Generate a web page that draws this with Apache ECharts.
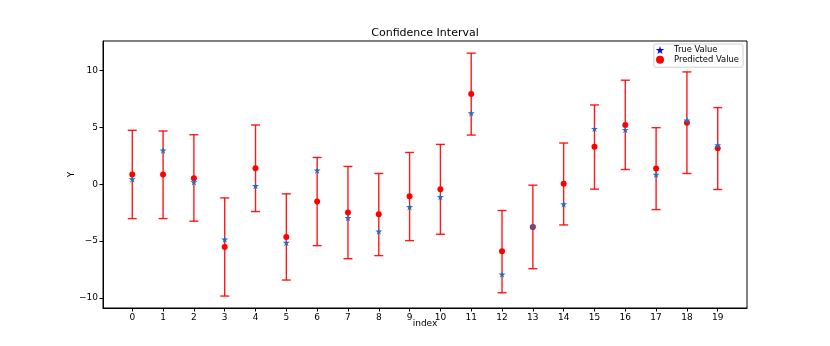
<!DOCTYPE html>
<html>
<head>
<meta charset="utf-8">
<script src="https://cdn.jsdelivr.net/npm/echarts@6/dist/echarts.min.js"></script>
<style>
  html, body { margin: 0; padding: 0; background: #fff; }
  #chart { width: 830px; height: 346px; }
</style>
</head>
<body>
<div id="chart"></div>
<script>
// values
const indexList = [0, 1, 2, 3, 4, 5, 6, 7, 8, 9, 10, 11, 12, 13, 14, 15, 16, 17, 18, 19]
const trueValues = [0.44, 2.97, 0.18, -4.85, -0.15, -5.15, 1.21, -2.97, -4.15, -2.0, -1.12, 6.26, -7.94, -3.71, -1.76, 4.88, 4.79, 0.85, 5.62, 3.44]
const predValues = [0.85, 0.85, 0.53, -5.53, 1.41, -4.65, -1.53, -2.5, -2.65, -1.06, -0.44, 7.94, -5.91, -3.76, 0.03, 3.29, 5.21, 1.38, 5.41, 3.15]
const lowerBound = [-3.03, -3.03, -3.26, -9.85, -2.41, -8.44, -5.41, -6.56, -6.29, -4.97, -4.41, 4.32, -9.56, -7.44, -3.59, -0.44, 1.29, -2.24, 0.94, -0.47]
const upperBound = [4.74, 4.68, 4.35, -1.21, 5.21, -0.85, 2.35, 1.56, 0.94, 2.79, 3.5, 11.53, -2.32, -0.09, 3.62, 6.97, 9.15, 4.97, 9.88, 6.74]
const yTicks = [-10, -5, 0, 5, 10]

const starPath = 'path://M50,0 L61,35 L98,35 L68,57 L79,91 L50,70 L21,91 L32,57 L2,35 L39,35 Z'
const font = 'DejaVu Sans'

let chart = echarts.init(document.getElementById('chart'))

let option = {
  backgroundColor: '#fff',
  animation: false,
  textStyle: { fontFamily: font },
  title: {
    text: 'Confidence Interval',
    left: 425,
    top: 28,
    padding: 0,
    textAlign: 'center',
    textStyle: { fontFamily: font, fontSize: 11, fontWeight: 'normal', color: '#000' }
  },
  legend: {
    right: 87,
    top: 44,
    orient: 'vertical',
    itemWidth: 18,
    itemHeight: 8,
    itemGap: 1.7,
    symbolKeepAspect: true,
    padding: [2, 4, 3.5, 2],
    borderColor: '#d0d0d0',
    borderWidth: 1,
    borderRadius: 2,
    textStyle: { fontFamily: font, fontSize: 8.4, color: '#000' },
    data: [
      { name: 'True Value', icon: starPath, itemStyle: { color: '#0000ff', opacity: 1 } },
      { name: 'Predicted Value', icon: 'circle', itemStyle: { opacity: 1 } }
    ]
  },
  grid: {
    left: 103,
    right: 83,
    top: 41,
    bottom: 38,
    show: true,
    borderColor: '#000',
    borderWidth: 1
  },
  xAxis: {
    type: 'value',
    min: -0.95,
    max: 19.95,
    name: 'index',
    nameLocation: 'middle',
    nameGap: 11,
    nameMoveOverlap: false,
    nameTextStyle: { fontFamily: font, fontSize: 9, color: '#000' },
    splitLine: { show: false },
    axisLine: { show: true, onZero: false, lineStyle: { color: '#000', width: 1 } },
    axisTick: { show: true, length: 3.5, customValues: indexList, lineStyle: { color: '#000' } },
    axisLabel: { customValues: indexList, margin: 5, fontFamily: font, fontSize: 9, color: '#000' }
  },
  yAxis: {
    type: 'value',
    min: -10.9,
    max: 12.6,
    name: 'Y',
    nameLocation: 'middle',
    nameGap: 27,
    nameMoveOverlap: false,
    nameTextStyle: { fontFamily: font, fontSize: 9, color: '#000' },
    splitLine: { show: false },
    axisLine: { show: true, onZero: false, lineStyle: { color: '#000', width: 1 } },
    axisTick: { show: true, length: 3.5, customValues: yTicks, lineStyle: { color: '#000' } },
    axisLabel: {
      customValues: yTicks,
      margin: 5,
      fontFamily: font,
      fontSize: 9,
      color: '#000',
      formatter: v => (v < 0 ? '\u2212' + Math.abs(v) : String(v))
    }
  },
  series: [
    {
      name: 'Error',
      type: 'custom',
      z: 1,
      renderItem: function (params, api) {
        const x = api.value(0)
        const top = api.coord([x, api.value(2)])
        const bot = api.coord([x, api.value(1)])
        const w = 4.5
        const style = { stroke: 'rgba(255,0,0,0.9)', lineWidth: 1.4 }
        return {
          type: 'group',
          children: [
            { type: 'line', shape: { x1: top[0], y1: top[1], x2: bot[0], y2: bot[1] }, style: style },
            { type: 'line', shape: { x1: top[0] - w, y1: top[1], x2: top[0] + w, y2: top[1] }, style: style },
            { type: 'line', shape: { x1: bot[0] - w, y1: bot[1], x2: bot[0] + w, y2: bot[1] }, style: style }
          ]
        }
      },
      data: indexList.map((x, i) => [x, lowerBound[i], upperBound[i]])
    },
    {
      name: 'Predicted Value',
      type: 'scatter',
      z: 2,
      symbol: 'circle',
      symbolSize: 6,
      itemStyle: { color: '#ff0000', opacity: 1 },
      data: indexList.map((x, i) => [x, predValues[i]])
    },
    {
      name: 'True Value',
      type: 'scatter',
      z: 3,
      symbol: starPath,
      symbolSize: 7,
      itemStyle: { color: '#1f6fc0', opacity: 1 },
      data: indexList.map((x, i) => [x, trueValues[i]])
    }
  ]
}
chart.setOption(option)
</script>
</body>
</html>
